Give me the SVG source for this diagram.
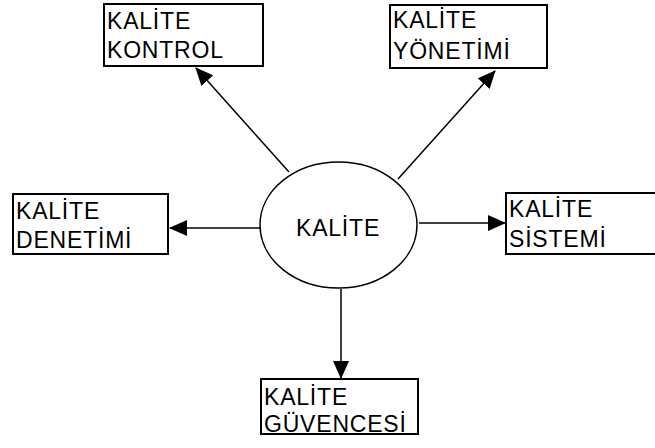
<svg xmlns="http://www.w3.org/2000/svg" width="655" height="448" viewBox="0 0 655 448">
<defs>
<style>
.box{fill:#fff;stroke:#000;stroke-width:2}
.t{font-family:"Liberation Sans",Arial,sans-serif;font-size:23px;fill:#000;letter-spacing:0.8px}
.c{stroke:#000;stroke-width:1.5;fill:none;marker-end:url(#ah)}
</style>
<marker id="ah" markerWidth="18" markerHeight="16" refX="17" refY="8" orient="auto" markerUnits="userSpaceOnUse">
<path d="M0,0 L18,8 L0,16 Z" fill="#000"/>
</marker>
</defs>
<rect width="655" height="448" fill="#fff"/>
<g id="connectors">
<line class="c" x1="289" y1="172" x2="196" y2="68"/>
<line class="c" x1="398" y1="179" x2="495" y2="71"/>
<line class="c" x1="260" y1="228" x2="170" y2="228"/>
<line class="c" x1="419" y1="223" x2="505" y2="223"/>
<line class="c" x1="341" y1="289" x2="341" y2="378"/>
</g>
<g id="center">
<ellipse cx="338.5" cy="225" rx="78.5" ry="63" fill="#fff" stroke="#000" stroke-width="1.5"/>
<text class="t" x="296" y="236">KALİTE</text>
</g>
<g id="kontrol">
<rect class="box" x="104" y="4" width="159" height="62"/>
<text class="t" x="107" y="29">KALİTE</text>
<text class="t" x="107" y="58">KONTROL</text>
</g>
<g id="yonetimi">
<rect class="box" x="390" y="5" width="157" height="63"/>
<text class="t" x="393" y="28">KALİTE</text>
<text class="t" x="393" y="59">YÖNETİMİ</text>
</g>
<g id="denetimi">
<rect class="box" x="13" y="194" width="155" height="60"/>
<text class="t" x="16" y="219">KALİTE</text>
<text class="t" x="16" y="248">DENETİMİ</text>
</g>
<g id="sistemi">
<rect class="box" x="506" y="193" width="152" height="61"/>
<text class="t" x="509" y="217">KALİTE</text>
<text class="t" x="509" y="247">SİSTEMİ</text>
</g>
<g id="guvencesi">
<rect class="box" x="261" y="379" width="157" height="55"/>
<text class="t" x="264" y="405">KALİTE</text>
<text class="t" x="264" y="432">GÜVENCESİ</text>
</g>
</svg>
